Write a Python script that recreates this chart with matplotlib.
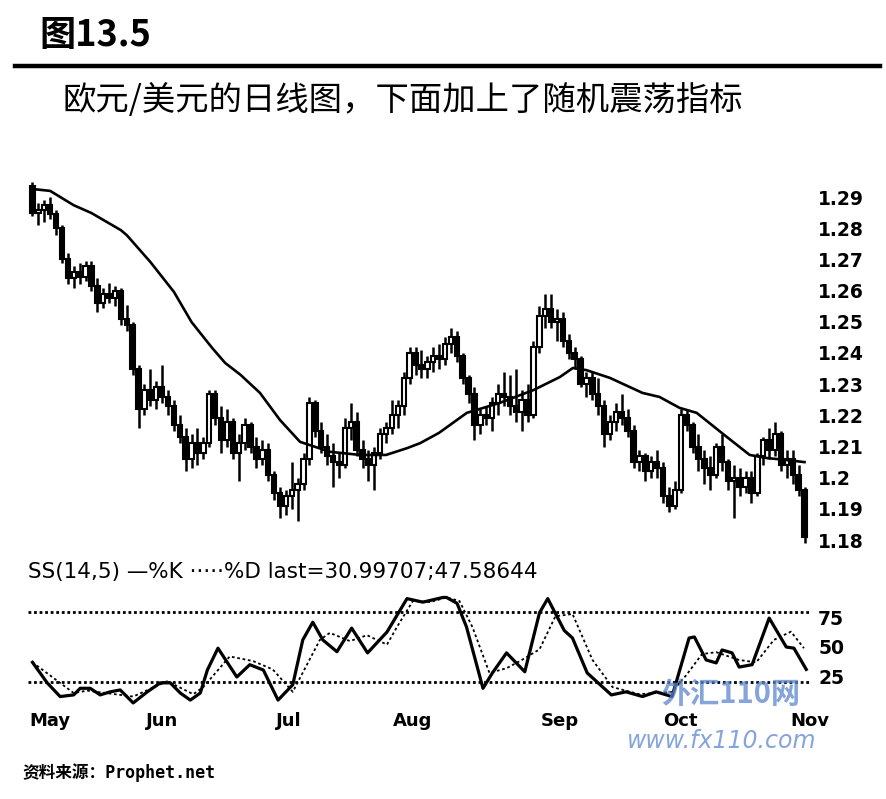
import matplotlib
matplotlib.use("Agg")
import matplotlib.pyplot as plt

plt.rcParams['font.family'] = ['DejaVu Sans', 'Noto Sans CJK SC']

# -------- DATA (EUR/USD daily, May - early Nov) --------
opens = [1.2935, 1.2850, 1.2860, 1.2875, 1.2845, 1.2800, 1.2700, 1.2640, 1.2660, 1.2645,
         1.2680, 1.2615, 1.2560, 1.2590, 1.2575, 1.2600, 1.2510, 1.2490, 1.2350, 1.2220,
         1.2280, 1.2250, 1.2290, 1.2260, 1.2230, 1.2170, 1.2130, 1.2060, 1.2110, 1.2080,
         1.2110, 1.2270, 1.2190, 1.2120, 1.2180, 1.2080, 1.2110, 1.2170, 1.2100, 1.2060,
         1.2090, 1.2010, 1.1950, 1.1910, 1.1940, 1.1960, 1.1980, 1.2060, 1.2240, 1.2150,
         1.2100, 1.2070, 1.2050, 1.2040, 1.2160, 1.2180, 1.2090, 1.2060, 1.2040, 1.2080,
         1.2140, 1.2160, 1.2200, 1.2230, 1.2320, 1.2400, 1.2360, 1.2350, 1.2370, 1.2390,
         1.2380, 1.2430, 1.2450, 1.2390, 1.2320, 1.2270, 1.2170, 1.2200, 1.2190, 1.2240,
         1.2270, 1.2260, 1.2230, 1.2210, 1.2250, 1.2200, 1.2420, 1.2520, 1.2540, 1.2500,
         1.2510, 1.2440, 1.2400, 1.2380, 1.2300, 1.2320, 1.2270, 1.2230, 1.2140, 1.2180,
         1.2210, 1.2190, 1.2150, 1.2050, 1.2070, 1.2020, 1.2050, 1.2030, 1.1940, 1.1910,
         1.1960, 1.2200, 1.2170, 1.2100, 1.2060, 1.2030, 1.2010, 1.2100, 1.2050, 1.1990,
         1.2000, 1.1970, 1.2000, 1.1950, 1.2070, 1.2120, 1.2090, 1.2140, 1.2040, 1.2060,
         1.2010, 1.1960]
highs = [1.2950, 1.2880, 1.2890, 1.2900, 1.2860, 1.2810, 1.2720, 1.2680, 1.2690, 1.2695,
         1.2695, 1.2640, 1.2610, 1.2625, 1.2615, 1.2610, 1.2555, 1.2500, 1.2360, 1.2300,
         1.2350, 1.2310, 1.2360, 1.2280, 1.2250, 1.2200, 1.2160, 1.2140, 1.2160, 1.2130,
         1.2280, 1.2280, 1.2230, 1.2220, 1.2190, 1.2140, 1.2190, 1.2180, 1.2130, 1.2120,
         1.2110, 1.2020, 1.1970, 1.1960, 1.2050, 1.2000, 1.2080, 1.2260, 1.2250, 1.2180,
         1.2140, 1.2110, 1.2080, 1.2190, 1.2240, 1.2210, 1.2120, 1.2090, 1.2100, 1.2160,
         1.2180, 1.2250, 1.2250, 1.2340, 1.2420, 1.2420, 1.2410, 1.2390, 1.2420, 1.2430,
         1.2450, 1.2480, 1.2470, 1.2400, 1.2330, 1.2290, 1.2220, 1.2230, 1.2260, 1.2300,
         1.2340, 1.2330, 1.2350, 1.2280, 1.2300, 1.2440, 1.2550, 1.2590, 1.2590, 1.2540,
         1.2530, 1.2460, 1.2420, 1.2390, 1.2340, 1.2340, 1.2320, 1.2250, 1.2200, 1.2240,
         1.2270, 1.2220, 1.2170, 1.2090, 1.2080, 1.2070, 1.2090, 1.2050, 1.1970, 1.1990,
         1.2220, 1.2220, 1.2180, 1.2140, 1.2090, 1.2070, 1.2110, 1.2140, 1.2060, 1.2040,
         1.2030, 1.2020, 1.2020, 1.2080, 1.2130, 1.2160, 1.2180, 1.2150, 1.2090, 1.2090,
         1.2040, 1.1970]
lows = [1.2840, 1.2810, 1.2820, 1.2830, 1.2780, 1.2690, 1.2620, 1.2610, 1.2620, 1.2630,
        1.2600, 1.2530, 1.2545, 1.2560, 1.2550, 1.2490, 1.2470, 1.2330, 1.2160, 1.2200,
        1.2230, 1.2220, 1.2240, 1.2200, 1.2150, 1.2110, 1.2020, 1.2030, 1.2040, 1.2060,
        1.2100, 1.2170, 1.2080, 1.2100, 1.2060, 1.1990, 1.2090, 1.2080, 1.2030, 1.2040,
        1.1990, 1.1930, 1.1870, 1.1880, 1.1900, 1.1860, 1.1960, 1.2040, 1.2130, 1.2080,
        1.2040, 1.1970, 1.2000, 1.2030, 1.2120, 1.2070, 1.2030, 1.1990, 1.1960, 1.2060,
        1.2110, 1.2140, 1.2160, 1.2200, 1.2300, 1.2330, 1.2320, 1.2320, 1.2340, 1.2350,
        1.2360, 1.2400, 1.2370, 1.2300, 1.2240, 1.2120, 1.2140, 1.2170, 1.2150, 1.2200,
        1.2230, 1.2200, 1.2180, 1.2150, 1.2180, 1.2190, 1.2400, 1.2480, 1.2480, 1.2440,
        1.2420, 1.2380, 1.2350, 1.2290, 1.2260, 1.2250, 1.2200, 1.2100, 1.2120, 1.2150,
        1.2170, 1.2130, 1.2030, 1.2020, 1.1990, 1.2000, 1.2000, 1.1920, 1.1890, 1.1900,
        1.1950, 1.2150, 1.2080, 1.2020, 1.1980, 1.1960, 1.2000, 1.2020, 1.1960, 1.1870,
        1.1940, 1.1950, 1.1920, 1.1940, 1.2040, 1.2060, 1.2070, 1.2020, 1.2000, 1.1980,
        1.1940, 1.1790]
closes = [1.2850, 1.2860, 1.2875, 1.2845, 1.2800, 1.2700, 1.2640, 1.2660, 1.2645, 1.2680,
          1.2615, 1.2560, 1.2590, 1.2575, 1.2600, 1.2510, 1.2490, 1.2350, 1.2220, 1.2280,
          1.2250, 1.2290, 1.2260, 1.2230, 1.2170, 1.2130, 1.2060, 1.2110, 1.2080, 1.2110,
          1.2270, 1.2190, 1.2120, 1.2180, 1.2080, 1.2110, 1.2170, 1.2100, 1.2060, 1.2090,
          1.2010, 1.1950, 1.1910, 1.1940, 1.1960, 1.1980, 1.2060, 1.2240, 1.2150, 1.2100,
          1.2070, 1.2050, 1.2040, 1.2160, 1.2180, 1.2090, 1.2060, 1.2040, 1.2080, 1.2140,
          1.2160, 1.2200, 1.2230, 1.2320, 1.2400, 1.2360, 1.2350, 1.2370, 1.2390, 1.2380,
          1.2430, 1.2450, 1.2390, 1.2320, 1.2270, 1.2170, 1.2200, 1.2190, 1.2240, 1.2270,
          1.2260, 1.2230, 1.2210, 1.2250, 1.2200, 1.2420, 1.2520, 1.2540, 1.2500, 1.2510,
          1.2440, 1.2400, 1.2380, 1.2300, 1.2320, 1.2270, 1.2230, 1.2140, 1.2180, 1.2210,
          1.2190, 1.2150, 1.2050, 1.2070, 1.2020, 1.2050, 1.2030, 1.1940, 1.1910, 1.1960,
          1.2200, 1.2170, 1.2100, 1.2060, 1.2030, 1.2010, 1.2100, 1.2050, 1.1990, 1.2000,
          1.1970, 1.2000, 1.1950, 1.2070, 1.2120, 1.2090, 1.2140, 1.2040, 1.2060, 1.2010,
          1.1960, 1.1810]

# moving average (read at points along the curve)
ma_idx = [0.5, 3, 7, 10, 15, 16, 20, 24, 27, 30.5, 32.7, 35.3, 38.6, 42, 45.4, 50.5,
          55.6, 60, 63.6, 65.8, 69, 73.7, 79.3, 85, 89.5, 91.7, 94, 98, 103.5, 106.4,
          109.8, 112.7, 117.8, 121.7, 124.6, 127.3, 131]
ma_val = [1.2925, 1.2920, 1.2874, 1.2849, 1.2794, 1.2778, 1.2692, 1.2596, 1.2499, 1.2416,
          1.2368, 1.2330, 1.2272, 1.2185, 1.2115, 1.2083, 1.2073, 1.2073, 1.2095, 1.2111,
          1.2144, 1.2208, 1.2240, 1.2281, 1.2323, 1.2352, 1.2345, 1.2320, 1.2272, 1.2259,
          1.2224, 1.2208, 1.2131, 1.2073, 1.2063, 1.2058, 1.2050]

# slow stochastic (14,5)
k_idx = [0, 2.5, 4.7, 7, 8.1, 9.8, 11.5, 13.2, 14.9, 17.1, 19.5, 21.7, 23.4, 25.1, 26.8,
         28.5, 29.7, 31.5, 34.7, 36.9, 39.2, 41.7, 44.2, 45.9, 47.6, 49.3, 51.7, 54.2, 56.9,
         60.2, 63.6, 66.3, 69.7, 70.3, 72.1, 73.7, 76.5, 78.1, 80.5, 83.6, 86.1, 87.5, 90.3,
         91.7, 94.2, 98.3, 100.8, 103.6, 105.9, 108.6, 111.5, 112.4, 114.4, 116.1, 117.1,
         118.8, 120, 122.2, 125.1, 128, 129.3, 131.4]
k_val = [37, 19.6, 8, 9.4, 15, 15, 9.4, 12, 13.6, 2.6, 12, 19.6, 19.6, 11, 5,
         11, 30.5, 49, 24.6, 35, 30.5, 5, 18, 56, 71, 56, 46, 66, 45,
         62.7, 91, 88, 92, 92, 87, 67, 15, 28, 45, 29, 79, 91, 64,
         57.6, 28, 9.4, 12, 8, 12, 8, 57.6, 58.5, 39, 36.5, 47.5,
         45, 33, 35, 74.5, 50, 49, 31]
d_idx = [0, 7, 9.3, 17.1, 22.9, 27.3, 29, 33.5, 37.5, 40.8, 44.2, 48.8, 50.5, 53.9, 56.8,
         60.2, 61.9, 64.6, 67.5, 70.3, 72.5, 74.7, 77.6, 80.5, 83.1, 86.1, 88.8, 91.7, 95.1,
         98.5, 103, 108.6, 111, 113.7, 116.1, 120, 122.9, 125.9, 128.8, 131]
d_val = [37, 11, 13, 8, 21, 10, 16, 42, 38, 31, 12, 56, 62, 55, 60,
         52, 67, 89, 88, 92, 89, 67, 28, 32, 39, 48, 76, 78, 39,
         16, 10, 12, 26, 44, 45.6, 39, 37, 56, 63, 49]

month_labels = ['May', 'Jun', 'Jul', 'Aug', 'Sep', 'Oct', 'Nov']
month_pos = [3, 22, 43.5, 64.5, 89.5, 110, 132]
price_ticks = [1.18, 1.19, 1.2, 1.21, 1.22, 1.23, 1.24, 1.25, 1.26, 1.27, 1.28, 1.29]
stoch_ticks = [25, 50, 75]

# -------- FIGURE --------
fig = plt.figure(figsize=(8.86, 7.99), dpi=100)

fig.text(0.045, 0.955, '图13.5', fontsize=26, fontweight='bold', va='center',
         family=['Noto Sans CJK SC'])
fig.add_artist(plt.Line2D([0.017, 0.993], [0.918, 0.918], color='black', lw=3.2))
fig.text(0.071, 0.874, '欧元/美元的日线图，下面加上了随机震荡指标', fontsize=24,
         va='center', family=['Noto Sans CJK SC'])

# -------- PRICE PANEL --------
ax = fig.add_axes([0.032, 0.312, 0.882, 0.469])
x = list(range(len(closes)))
ax.vlines(x, lows, highs, color='black', lw=1.8)
for i in x:
    o, c = opens[i], closes[i]
    bottom = min(o, c)
    h = max(abs(c - o), 0.0004)
    face = 'white' if c >= o else 'black'
    ax.bar(i, h, bottom=bottom, width=0.75, color=face, edgecolor='black', lw=1.5, zorder=3)
ax.plot(ma_idx, ma_val, color='black', lw=1.9, zorder=4)

ax.set_xlim(-0.7, 131.9)
ax.set_ylim(1.1769, 1.2971)
ax.set_yticks(price_ticks)
ax.set_yticklabels([f"{t:g}" for t in price_ticks])
ax.yaxis.tick_right()
ax.tick_params(axis='y', length=0, pad=6, labelsize=13.5)
for lbl in ax.get_yticklabels():
    lbl.set_fontweight('bold')
ax.set_xticks([])
for s in ax.spines.values():
    s.set_visible(False)

# -------- STOCHASTIC PANEL --------
ax2 = fig.add_axes([0.032, 0.1164, 0.882, 0.1477])
ax2.axhline(80, color='black', lw=2, ls=(0, (1, 1)))
ax2.axhline(20, color='black', lw=2, ls=(0, (1, 1)))
ax2.plot(d_idx, d_val, color='black', lw=1.3, ls=(0, (1.5, 1.5)))
ax2.plot(k_idx, k_val, color='black', lw=2.3)
ax2.set_xlim(-0.7, 131.9)
ax2.set_ylim(0, 100)
ax2.set_yticks(stoch_ticks)
ax2.yaxis.tick_right()
ax2.tick_params(axis='y', length=0, pad=6, labelsize=13.5)
for lbl in ax2.get_yticklabels():
    lbl.set_fontweight('bold')
ax2.set_xticks(month_pos)
ax2.set_xticklabels(month_labels, fontweight='bold')
ax2.tick_params(axis='x', length=0, pad=4, labelsize=13)
for s in ax2.spines.values():
    s.set_visible(False)

ax2.text(0.0, 1.05, 'SS(14,5) —%K ·····%D last=30.99707;47.58644', transform=ax2.transAxes,
         fontsize=15.5, va='bottom', ha='left')

# watermark
fig.text(0.825, 0.132, '外汇110网', fontsize=21, fontweight='bold', style='italic',
         color='#5b86d0', alpha=0.75, ha='center', va='center', family=['Noto Sans CJK SC'])
fig.text(0.815, 0.072, 'www.fx110.com', fontsize=17, style='italic',
         color='#5b86d0', alpha=0.75, ha='center', va='center')

fig.text(0.025, 0.033, '资料来源：Prophet.net', fontsize=12, fontweight='bold',
         va='center', family=['DejaVu Sans Mono', 'Noto Sans CJK SC'])

plt.savefig('out.png', dpi=100)
